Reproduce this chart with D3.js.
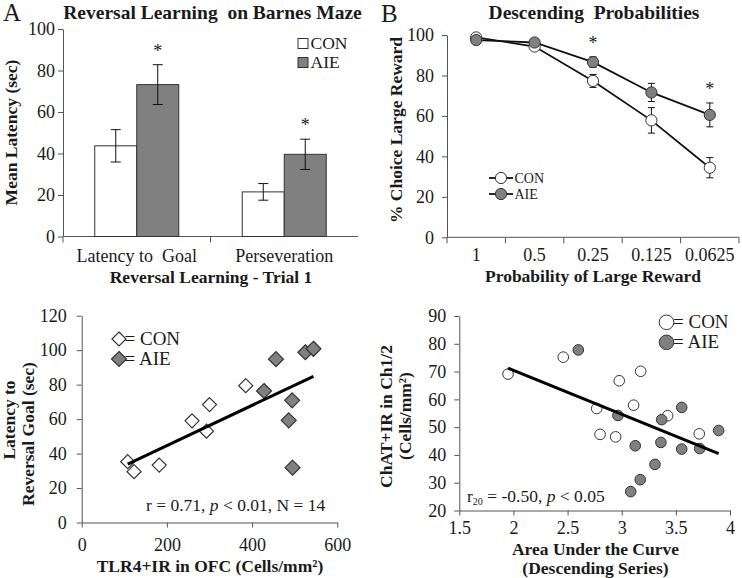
<!DOCTYPE html>
<html><head><meta charset="utf-8">
<script src="https://cdn.jsdelivr.net/npm/d3@7"></script>
<style>
body{margin:0;background:#fff}
svg{display:block;font-family:"Liberation Serif","Times New Roman",serif}
</style></head><body>
<svg id="c" width="742" height="578"></svg>
<script>
// ---------- Panel A: Reversal Learning on Barnes Maze ----------
const aCategories = ["Latency to  Goal", "Perseveration"];
const aSeries = ["CON", "AIE"];
const aCON = [43.7, 21.5];
const aAIE = [73.2, 39.6];
const aCONerr = [7.8, 4.0];
const aAIEerr = [9.6, 7.3];
const aSig = [true, true];
const aYTicks = [0, 20, 40, 60, 80, 100];

// ---------- Panel B: Descending Probabilities ----------
const bCategories = ["1", "0.5", "0.25", "0.125", "0.0625"];
const bCON = [98.8, 94.3, 77.3, 57.8, 34.4];
const bAIE = [97.5, 96.3, 86.6, 71.6, 60.5];
const bCONerr = [1.2, 1.5, 3.2, 6.3, 5.0];
const bAIEerr = [1.2, 1.2, 2.6, 4.5, 5.9];
const bSig = [false, false, true, false, true];
const bYTicks = [0, 20, 40, 60, 80, 100];

// ---------- Panel C: TLR4+IR vs latency ----------
const cConX = [108, 123, 182, 259, 293, 300, 385];
const cConY = [35.3, 29.5, 33.3, 59, 53, 68.4, 79.4];
const cAieX = [428, 456, 486, 494, 495, 525, 544];
const cAieY = [76.3, 94.8, 59.3, 70.9, 31.8, 98.8, 100.8];
const cFit = [0.1167, 21.3]; // slope, intercept
const cXTicks = [0, 200, 400, 600];
const cYTicks = [0, 20, 40, 60, 80, 100, 120];

// ---------- Panel D: AUC vs ChAT+IR ----------
const dConX = [1.95, 2.46, 2.977, 3.175, 2.769, 3.11, 3.424, 2.80, 2.944, 3.716];
const dConY = [69.1, 75.2, 66.7, 70.1, 56.7, 57.9, 54.1, 47.4, 46.5, 47.6];
const dAieX = [2.599, 2.965, 3.554, 3.369, 3.895, 3.125, 3.362, 3.554, 3.72, 3.307, 3.171, 3.083];
const dAieY = [77.8, 54.2, 57.1, 52.7, 48.8, 43.3, 44.5, 42.1, 42.3, 36.6, 31.1, 26.8];
const dFit = [-15.8, 102.0]; // slope, intercept
const dXTicks = [1.5, 2, 2.5, 3, 3.5, 4];
const dYTicks = [20, 30, 40, 50, 60, 70, 80, 90];

const GRAY = "#808080", EDGE = "#333", AX = "#555", TXT = "#1a1a1a";
const FONT = '"Liberation Serif","Times New Roman",serif';
const svg = d3.select("#c");

function styleAxis(g, size) {
  g.attr("font-family", FONT).attr("font-size", size);
  g.select(".domain").attr("stroke", AX);
  g.selectAll(".tick line").attr("stroke", AX);
  g.selectAll("text").attr("font-family", FONT).attr("font-size", size).attr("fill", TXT);
}
function txt(x, y, s, opt = {}) {
  const t = svg.append("text").attr("x", x).attr("y", y).text(s)
    .attr("font-family", FONT)
    .attr("font-size", opt.size || 18).attr("fill", TXT)
    .attr("text-anchor", opt.anchor || "middle")
    .style("white-space", "pre");
  if (opt.bold) t.attr("font-weight", "bold");
  return t;
}
function rtxt(x, y, s, size) {
  return svg.append("text").attr("transform", `translate(${x},${y}) rotate(-90)`)
    .attr("font-family", FONT)
    .attr("text-anchor", "middle").attr("font-size", size || 17.5)
    .attr("font-weight", "bold").attr("fill", TXT).text(s);
}

// ================= PANEL A =================
{
  const x0 = d3.scaleBand().domain(aCategories).range([63, 358]);
  const x1 = d3.scaleBand().domain(aSeries).range([0, x0.bandwidth()]).paddingOuter(0.756);
  const y = d3.scaleLinear().domain([0, 100]).range([236.5, 29]);
  const rows = aCategories.map((c, i) => ({ c, i, vals: [
    { s: "CON", v: aCON[i], e: aCONerr[i], fill: "#fff" },
    { s: "AIE", v: aAIE[i], e: aAIEerr[i], fill: GRAY }] }));

  const ga = svg.append("g").attr("transform", "translate(63,0)")
    .call(d3.axisLeft(y).tickValues(aYTicks).tickSize(5).tickSizeOuter(0).tickPadding(3));
  styleAxis(ga, 18);
  svg.append("line").attr("x1", x0.range()[0]).attr("x2", x0.range()[1])
    .attr("y1", y(0)).attr("y2", y(0)).attr("stroke", AX);
  aCategories.forEach(c => {
    svg.append("line").attr("x1", x0(c)).attr("x2", x0(c)).attr("y1", y(0)).attr("y2", y(0) + 6).attr("stroke", AX);
    txt(x0(c) + x0.bandwidth() / 2, 262, c, { size: 18 });
  });

  const g = svg.append("g");
  rows.forEach(r => {
    r.vals.forEach(d => {
      const bx = x0(r.c) + x1(d.s);
      g.append("rect").attr("x", bx).attr("y", y(d.v)).attr("width", x1.bandwidth())
        .attr("height", y(0) - y(d.v)).attr("fill", d.fill).attr("stroke", EDGE).attr("stroke-width", 1);
      const cx = bx + x1.bandwidth() / 2;
      g.append("line").attr("x1", cx).attr("x2", cx).attr("y1", y(d.v + d.e)).attr("y2", y(d.v - d.e)).attr("stroke", "#111");
      [d.v + d.e, d.v - d.e].forEach(v => g.append("line").attr("x1", cx - 5).attr("x2", cx + 5)
        .attr("y1", y(v)).attr("y2", y(v)).attr("stroke", "#111"));
    });
    if (aSig[r.i]) {
      const d = r.vals[1];
      txt(x0(r.c) + x1("AIE") + x1.bandwidth() / 2, y(d.v + d.e) - 8, "*", { size: 18 });
    }
  });
  aSeries.forEach((s, i) => {
    svg.append("rect").attr("x", 298).attr("y", 38.5 + i * 19).attr("width", 10).attr("height", 10)
      .attr("fill", i ? GRAY : "#fff").attr("stroke", EDGE);
    txt(310.5, 48.5 + i * 19, s, { anchor: "start", size: 17.5 });
  });
  txt(3, 21, "A", { anchor: "start", size: 25 });
  txt(212.5, 19, "Reversal Learning  on Barnes Maze", { bold: true, size: 19.5 });
  rtxt(17, 132.5, "Mean Latency (sec)", 17.5);
  txt(211, 283, "Reversal Learning - Trial 1", { bold: true, size: 17.5 });
}

// ================= PANEL B =================
{
  const x = d3.scaleBand().domain(bCategories).range([447, 739]);
  const y = d3.scaleLinear().domain([0, 100]).range([237.3, 35]);
  const ga = svg.append("g").attr("transform", "translate(447,0)")
    .call(d3.axisLeft(y).tickValues(bYTicks).tickSize(5).tickSizeOuter(0).tickPadding(8));
  styleAxis(ga, 18);
  svg.append("line").attr("x1", x.range()[0]).attr("x2", x.range()[1]).attr("y1", y(0)).attr("y2", y(0)).attr("stroke", AX);
  const bounds = bCategories.map(c => x(c)).concat([x.range()[1]]);
  bounds.forEach(bx => svg.append("line").attr("x1", bx).attr("x2", bx).attr("y1", y(0)).attr("y2", y(0) + 6).attr("stroke", AX));
  bCategories.forEach(c => txt(x(c) + x.bandwidth() / 2, 261, c, { size: 18 }));
  const cx = c => x(c) + x.bandwidth() / 2;
  const series = [
    { name: "CON", v: bCON, e: bCONerr, fill: "#fff" },
    { name: "AIE", v: bAIE, e: bAIEerr, fill: GRAY }];
  const line = d3.line().x((d, i) => cx(bCategories[i])).y(d => y(d));
  series.forEach(s => {
    svg.append("path").attr("d", line(s.v)).attr("fill", "none").attr("stroke", "#111").attr("stroke-width", 1.8);
  });
  series.forEach(s => {
    bCategories.forEach((c, i) => {
      const X = cx(c);
      svg.append("line").attr("x1", X).attr("x2", X).attr("y1", y(s.v[i] + s.e[i])).attr("y2", y(s.v[i] - s.e[i])).attr("stroke", "#111");
      [s.v[i] + s.e[i], s.v[i] - s.e[i]].forEach(v => svg.append("line").attr("x1", X - 3.5).attr("x2", X + 3.5)
        .attr("y1", y(v)).attr("y2", y(v)).attr("stroke", "#111"));
    });
  });
  series.forEach(s => {
    bCategories.forEach((c, i) => {
      svg.append("circle").attr("cx", cx(c)).attr("cy", y(s.v[i])).attr("r", 5.6)
        .attr("fill", s.fill).attr("stroke", EDGE).attr("stroke-width", 1);
    });
  });
  bCategories.forEach((c, i) => {
    if (bSig[i]) txt(cx(c), y(bAIE[i] + bAIEerr[i]) - 8, "*", { size: 18 });
  });
  series.forEach((s, i) => {
    const ly = 178 + i * 16;
    svg.append("line").attr("x1", 489).attr("x2", 513).attr("y1", ly).attr("y2", ly).attr("stroke", "#111").attr("stroke-width", 1.8);
    svg.append("circle").attr("cx", 501).attr("cy", ly).attr("r", 5.6).attr("fill", s.fill).attr("stroke", EDGE);
    txt(514.5, ly + 5, s.name, { anchor: "start", size: 14 });
  });
  txt(381, 22, "B", { anchor: "start", size: 25 });
  txt(594, 19, "Descending  Probabilities", { bold: true, size: 19.5 });
  rtxt(402, 130, "% Choice Large Reward", 17.5);
  txt(593, 282, "Probability of Large Reward", { bold: true, size: 17.5 });
}

// ================= PANEL C =================
{
  const x = d3.scaleLinear().domain([0, 600]).range([81.7, 337.3]);
  const y = d3.scaleLinear().domain([0, 120]).range([522.5, 315.7]);
  const gy = svg.append("g").attr("transform", `translate(${x(0)},0)`)
    .call(d3.axisLeft(y).tickValues(cYTicks).tickSize(5).tickSizeOuter(0).tickPadding(10));
  styleAxis(gy, 18);
  const gx = svg.append("g").attr("transform", `translate(0,${y(0)})`)
    .call(d3.axisBottom(x).tickValues(cXTicks).tickSize(5).tickSizeOuter(0));
  styleAxis(gx, 18);
  gx.selectAll("text").attr("y", 28.5).attr("dy", 0);
  function diamond(cxp, cyp, h, fill) {
    svg.append("path").attr("d", `M${cxp},${cyp - h}L${cxp + h},${cyp}L${cxp},${cyp + h}L${cxp - h},${cyp}Z`)
      .attr("fill", fill).attr("stroke", EDGE).attr("stroke-width", 1.2);
  }
  cConX.forEach((v, i) => diamond(x(v), y(cConY[i]), 7, "#fff"));
  cAieX.forEach((v, i) => diamond(x(v), y(cAieY[i]), 7.5, GRAY));
  const ext = d3.extent(cConX.concat(cAieX));
  svg.append("line").attr("x1", x(ext[0])).attr("x2", x(ext[1]))
    .attr("y1", y(cFit[0] * ext[0] + cFit[1])).attr("y2", y(cFit[0] * ext[1] + cFit[1]))
    .attr("stroke", "#000").attr("stroke-width", 3);
  diamond(119, 339, 7, "#fff");
  diamond(119, 359, 7.5, GRAY);
  txt(124.5, 345, "= CON", { anchor: "start", size: 19 });
  txt(124.5, 365, "= AIE", { anchor: "start", size: 19 });
  const t = txt(146, 511, "", { anchor: "start", size: 17.5 });
  t.append("tspan").text("r = 0.71, ");
  t.append("tspan").attr("font-style", "italic").text("p");
  t.append("tspan").text(" < 0.01, N = 14");
  rtxt(15, 420, "Latency to", 17.5);
  rtxt(34, 434, "Reversal Goal (sec)", 17.5);
  txt(210, 572, "TLR4+IR in OFC (Cells/mm²)", { bold: true, size: 17.5 });
}

// ================= PANEL D =================
{
  const x = d3.scaleLinear().domain([1.5, 4]).range([459.3, 730]);
  const y = d3.scaleLinear().domain([20, 90]).range([510.5, 316]);
  const gy = svg.append("g").attr("transform", `translate(${x(1.5)},0)`)
    .call(d3.axisLeft(y).tickValues(dYTicks).tickSize(5).tickSizeOuter(0).tickPadding(8));
  styleAxis(gy, 18);
  const gx = svg.append("g").attr("transform", `translate(0,${y(20)})`)
    .call(d3.axisBottom(x).tickValues(dXTicks).tickFormat(d => String(d)).tickSize(5).tickSizeOuter(0));
  styleAxis(gx, 18);
  gx.selectAll("text").attr("y", 23.5).attr("dy", 0);
  dConX.forEach((v, i) => svg.append("circle").attr("cx", x(v)).attr("cy", y(dConY[i])).attr("r", 5.3)
    .attr("fill", "#fff").attr("stroke", EDGE).attr("stroke-width", 1));
  dAieX.forEach((v, i) => svg.append("circle").attr("cx", x(v)).attr("cy", y(dAieY[i])).attr("r", 5.3)
    .attr("fill", GRAY).attr("stroke", EDGE).attr("stroke-width", 1));
  const ext = d3.extent(dConX.concat(dAieX));
  svg.append("line").attr("x1", x(ext[0])).attr("x2", x(ext[1]))
    .attr("y1", y(dFit[0] * ext[0] + dFit[1])).attr("y2", y(dFit[0] * ext[1] + dFit[1]))
    .attr("stroke", "#000").attr("stroke-width", 3);
  svg.append("circle").attr("cx", 666.5).attr("cy", 322.3).attr("r", 7.3).attr("fill", "#fff").attr("stroke", EDGE);
  svg.append("circle").attr("cx", 666.5).attr("cy", 342.3).attr("r", 7.3).attr("fill", GRAY).attr("stroke", EDGE);
  txt(673, 328, "= CON", { anchor: "start", size: 19 });
  txt(673, 348, "= AIE", { anchor: "start", size: 19 });
  const t = txt(467, 502, "", { anchor: "start", size: 17.5 });
  t.append("tspan").text("r");
  t.append("tspan").attr("font-size", 10).attr("dy", 3).text("20");
  t.append("tspan").attr("dy", -3).text(" = -0.50, ");
  t.append("tspan").attr("font-style", "italic").text("p");
  t.append("tspan").text(" < 0.05");
  rtxt(392, 416.5, "ChAT+IR in Ch1/2", 17.5);
  rtxt(411, 416, "(Cells/mm²)", 17.5);
  txt(595.5, 554.5, "Area Under the Curve", { bold: true, size: 17.5 });
  txt(595.5, 574, "(Descending Series)", { bold: true, size: 17.5 });
}
</script>
</body></html>
